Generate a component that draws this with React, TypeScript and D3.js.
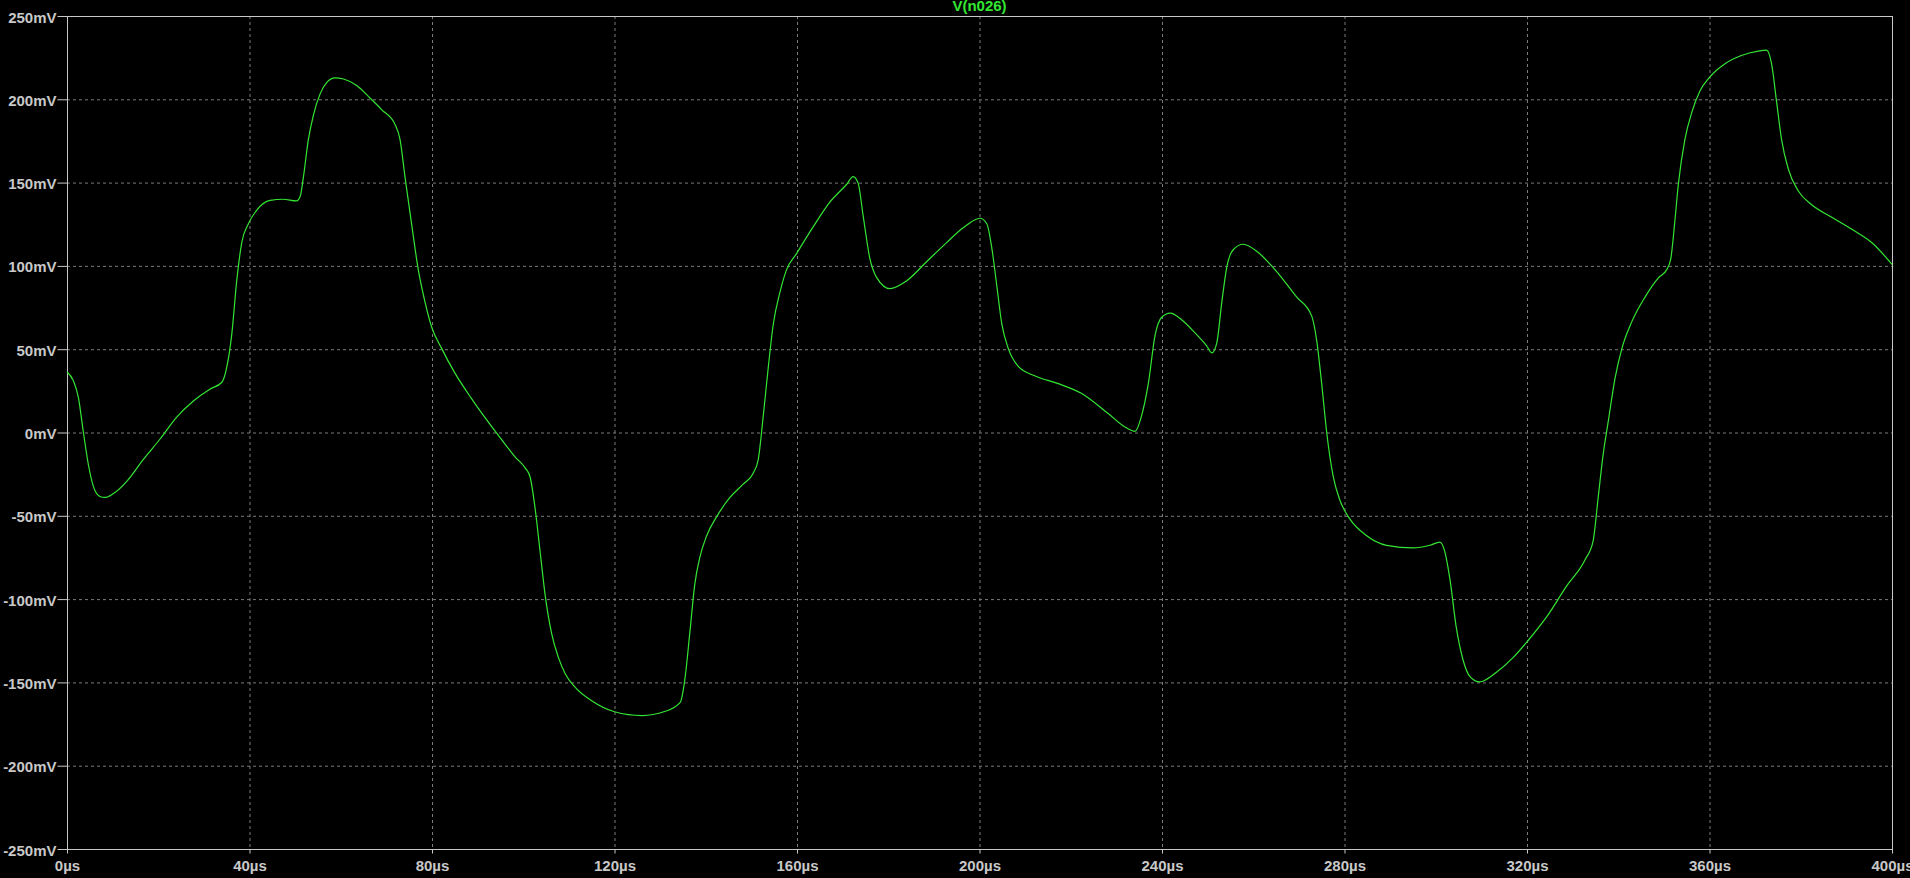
import { useEffect, useRef } from 'react';
import * as d3 from 'd3';

const W = 1910;
const H = 878;

// trace, time in µs / voltage in mV
const timeUs = [
  0, 1.4, 2.5, 3.6, 4.7, 5.8, 7.2, 8.3, 10.1, 13.1, 16.7, 20.4, 24.0, 27.7, 31.3, 33.9,
  35.0, 36.1, 37.2, 38.3, 39.7, 41.6, 44.5, 47.4, 50.3, 51.1, 51.8, 52.9, 54.0, 55.5, 56.9,
  58.7, 60.6, 63.5, 66.4, 69.0, 71.9, 73.0, 74.1, 75.6, 77.0, 78.5, 79.9, 82.1, 85.0, 88.7,
  94.5, 98.2, 100.4, 101.5, 102.6, 103.7, 104.8, 106.2, 107.7, 109.2, 111.4, 115.0, 120.0,
  126.0, 131.0, 134.4, 135.5, 136.5, 137.6, 138.7, 140.2, 142.4, 145.3, 148.2, 150.4, 151.5,
  152.6, 153.7, 154.8, 156.3, 157.7, 159.9, 163.6, 167.2, 170.9, 172.3, 173.4, 174.5, 176.0,
  177.5, 180.4, 184.0, 188.4, 192.8, 196.5, 200.1, 201.6, 202.7, 203.8, 204.9, 206.3, 208.5,
  212.2, 217.3, 222.4, 228.2, 231.9, 234.1, 235.5, 237.0, 238.5, 239.9, 241.8, 244.3, 247.2,
  249.8, 250.9, 252.0, 253.1, 254.2, 255.6, 257.8, 261.1, 264.8, 269.5, 272.8, 273.9, 275.0,
  276.1, 277.5, 279.0, 281.2, 284.8, 289.2, 295.1, 298.7, 300.9, 302.0, 303.1, 304.5, 306.0,
  307.5, 309.6, 313.3, 317.0, 320.1, 324.3, 328.7, 332.7, 334.5, 335.6, 336.7, 337.8, 339.3,
  340.8, 343.0, 345.9, 348.8, 350.6, 351.5, 352.3, 353.2, 354.6, 356.1, 357.9, 360.0, 363.4,
  367.0, 370.7, 372.5, 373.6, 374.7, 375.8, 377.3, 379.5, 382.4, 386.8, 391.2, 395.6, 400,
];
const voltageMv = [
  36.5, 31, 21, 0, -19.5, -32.5, -38.4, -39, -36.8, -29.3, -16.3, -3.9, 9.1, 18.9, 26, 30,
  39, 58.6, 91, 114, 125, 133.5, 139.3, 140, 139, 141.6, 153, 175.8, 190.4, 203.4, 210,
  212.9, 212.2, 208.3, 200.8, 193.7, 184.9, 175.8, 153, 123.7, 97.6, 78, 63.5, 50.5, 35.8, 20.2,
  -1.6, -14.6, -21.2, -26.7, -45.6, -71.6, -97.6, -120.4, -135, -144.8, -153, -161, -167.6,
  -169.9, -167.5, -162, -146.5, -120.4, -91, -75, -62, -50.5, -39, -31, -24.4, -16.3,
  9.8, 39, 65, 84.6, 97.6, 107.4, 123.7, 138.3, 149, 153.6, 149.7, 130, 104,
  92.8, 86.3, 91, 102.5, 114, 123, 128.6, 125.3, 110.7, 87.9, 65, 50.5, 39.7,
  33.9, 29.3, 23.4, 11.4, 3.3, 0.7, 9.8, 29.3, 58.6, 69, 71.6, 67.7, 59.9,
  52, 47.8, 53.7, 78, 99.3, 109.7, 113, 108, 97.6, 81.4, 70, 55.3, 29.3,
  0, -26, -40.7, -52, -61.8, -67.7, -69.3, -67.7, -65.8, -71.6, -87.9, -117, -136.7,
  -146.5, -149.7, -143.9, -135, -125.3, -110.7, -92.1, -76.5, -65, -39, -13, 6.5, 32.6,
  50.5, 66.7, 81.4, 92.8, 97.6, 104, 123.7, 149.7, 175.8, 192, 205, 213.2, 221.4,
  226.3, 228.9, 229.5, 221.4, 198.6, 175.8, 157.9, 144.8, 136.7, 129.2, 122, 113.9, 100.9,
];

const xTicks = [0, 40, 80, 120, 160, 200, 240, 280, 320, 360, 400];
const yTicks = [-250, -200, -150, -100, -50, 0, 50, 100, 150, 200, 250];
const traceName = 'V(n026)';

const FRAME = '#c8c8c8';
const GRID = '#7a7a7a';
const TRACE = '#33e633';

export default function App() {
  const ref = useRef<SVGSVGElement>(null);

  useEffect(() => {
    const margin = { top: 16, right: 18, bottom: 29, left: 67 };
    const x = d3.scaleLinear().domain([0, 400]).range([margin.left, W - margin.right]);
    const y = d3.scaleLinear().domain([-250, 250]).range([H - margin.bottom, margin.top]);

    const svg = d3.select(ref.current);
    svg.selectAll('*').remove();

    svg.append('rect').attr('width', W).attr('height', H).attr('fill', '#000');

    // grid
    svg.append('g')
      .selectAll('line')
      .data(xTicks.slice(1, -1))
      .enter()
      .append('line')
      .attr('x1', d => x(d) + 0.5)
      .attr('x2', d => x(d) + 0.5)
      .attr('y1', y(250))
      .attr('y2', y(-250))
      .attr('stroke', GRID)
      .attr('stroke-dasharray', '3,3');

    svg.append('g')
      .selectAll('line')
      .data(yTicks.slice(1, -1))
      .enter()
      .append('line')
      .attr('x1', x(0))
      .attr('x2', x(400))
      .attr('y1', d => y(d) + 0.5)
      .attr('y2', d => y(d) + 0.5)
      .attr('stroke', GRID)
      .attr('stroke-dasharray', '3,3');

    // frame
    svg.append('rect')
      .attr('x', x(0) + 0.5)
      .attr('y', y(250) + 0.5)
      .attr('width', x(400) - x(0))
      .attr('height', y(-250) - y(250))
      .attr('fill', 'none')
      .attr('stroke', FRAME);

    // y axis
    const yAxis = svg.append('g')
      .attr('transform', `translate(${x(0) + 0.5},0)`)
      .call(d3.axisLeft(y).tickValues(yTicks).tickSize(10).tickPadding(1).tickFormat(d => `${d}mV`));
    yAxis.select('.domain').remove();
    yAxis.selectAll('line').attr('stroke', FRAME);
    yAxis.selectAll('text')
      .attr('fill', FRAME)
      .attr('font-family', 'Liberation Sans, Arial, sans-serif')
      .attr('font-weight', 'bold')
      .attr('font-size', 15)
      .attr('dy', '0.4em');

    // x axis
    const xAxis = svg.append('g')
      .attr('transform', `translate(0,${y(-250) + 0.5})`)
      .call(d3.axisBottom(x).tickValues(xTicks).tickSize(4).tickPadding(7).tickFormat(d => `${d}µs`));
    xAxis.select('.domain').remove();
    xAxis.selectAll('line').attr('stroke', FRAME);
    xAxis.selectAll('text')
      .attr('fill', FRAME)
      .attr('font-family', 'Liberation Sans, Arial, sans-serif')
      .attr('font-weight', 'bold')
      .attr('font-size', 15);

    // title
    svg.append('text')
      .attr('x', (x(0) + x(400)) / 2)
      .attr('y', 11)
      .attr('text-anchor', 'middle')
      .attr('fill', TRACE)
      .attr('font-family', 'Liberation Sans, Arial, sans-serif')
      .attr('font-weight', 'bold')
      .attr('font-size', 15)
      .text(traceName);

    // trace
    const line = d3.line<number>()
      .x((_, i) => x(timeUs[i]))
      .y(d => y(d))
      .curve(d3.curveMonotoneX);

    svg.append('path')
      .datum(voltageMv)
      .attr('fill', 'none')
      .attr('stroke', TRACE)
      .attr('stroke-width', 1.2)
      .attr('d', line);
  }, []);

  return (
    <div style={{ position: 'fixed', left: 0, top: 0, width: W, height: H, background: '#000' }}>
      <svg ref={ref} width={W} height={H} style={{ display: 'block' }} />
    </div>
  );
}
